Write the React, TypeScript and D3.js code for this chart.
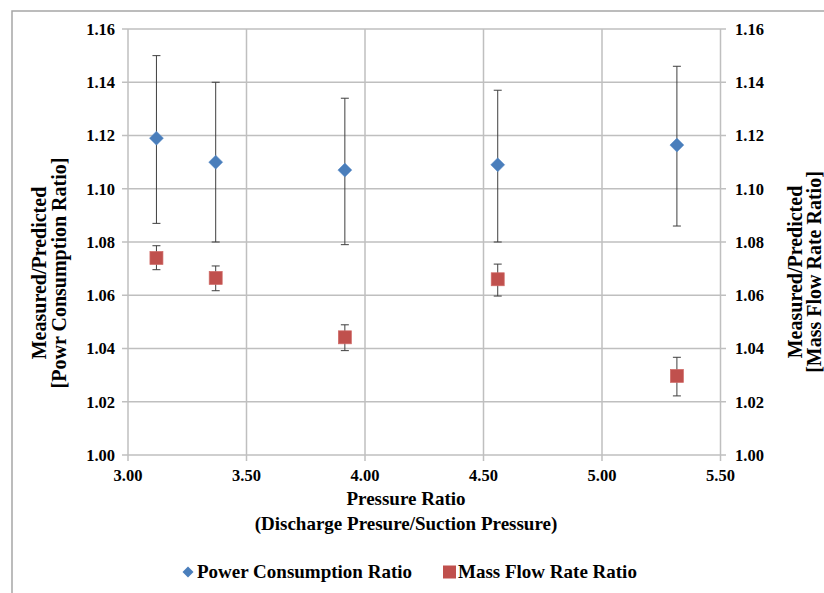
import React from "react";
import * as d3 from "d3";

const pressureRatio = [3.12, 3.37, 3.915, 4.56, 5.316];
const powerRatio = [1.119, 1.11, 1.107, 1.109, 1.1164];
const powerUpper = [1.15, 1.14, 1.134, 1.137, 1.146];
const powerLower = [1.087, 1.08, 1.079, 1.08, 1.086];
const massRatio = [1.074, 1.0665, 1.0442, 1.066, 1.0297];
const massUpper = [1.0786, 1.071, 1.0489, 1.0717, 1.0367];
const massLower = [1.0696, 1.0617, 1.0392, 1.0597, 1.0222];
const xTicks = [3.0, 3.5, 4.0, 4.5, 5.0, 5.5];
const yTicks = [1.0, 1.02, 1.04, 1.06, 1.08, 1.1, 1.12, 1.14, 1.16];

const W = 824;
const H = 593;
const FONT = "Liberation Serif";

export default function App() {
  const x = d3.scaleLinear().domain([3.0, 5.5]).range([128, 720.5]);
  const y = d3.scaleLinear().domain([1.0, 1.16]).range([455, 29]);
  const grid = "#bfbfbf";
  const errColor = "#3f3f3f";
  const dPath = (s: number) => {
    const h = s / 2;
    return `M0,${-h}L${h},0L0,${h}L${-h},0Z`;
  };
  const ts: React.CSSProperties = { fontFamily: FONT, fontWeight: "bold" };

  return (
    <svg width={W} height={H} style={{ position: "absolute", left: 0, top: 0, background: "#fff" }}>
      <rect x={0} y={0} width={W} height={H} fill="#fff" />
      <path d={`M12,${H + 5}L12,11L${W + 5},11`} fill="none" stroke="#a6a6a6" strokeWidth={1.5} />

      {yTicks.map((t) => (
        <line key={"hy" + t} x1={122} x2={726} y1={y(t)} y2={y(t)} stroke={grid} strokeWidth={1.5} />
      ))}
      {xTicks.map((t) => (
        <line key={"vx" + t} x1={x(t)} x2={x(t)} y1={29} y2={461} stroke={grid} strokeWidth={1.5} />
      ))}

      {yTicks.map((t) => (
        <text key={"ly" + t} x={115} y={y(t)} dy="0.35em" textAnchor="end" fontSize={16.5} style={ts} fill="#000">
          {d3.format(".2f")(t)}
        </text>
      ))}
      {yTicks.map((t) => (
        <text key={"ry" + t} x={735} y={y(t)} dy="0.35em" textAnchor="start" fontSize={16.5} style={ts} fill="#000">
          {d3.format(".2f")(t)}
        </text>
      ))}
      {xTicks.map((t) => (
        <text key={"tx" + t} x={x(t)} y={481} textAnchor="middle" fontSize={16.5} style={ts} fill="#000">
          {d3.format(".2f")(t)}
        </text>
      ))}

      {pressureRatio.map((p, i) => (
        <g key={"pe" + i} stroke={errColor} strokeWidth={1}>
          <line x1={x(p)} x2={x(p)} y1={y(powerUpper[i])} y2={y(powerLower[i])} />
          <line x1={x(p) - 4} x2={x(p) + 4} y1={y(powerUpper[i])} y2={y(powerUpper[i])} />
          <line x1={x(p) - 4} x2={x(p) + 4} y1={y(powerLower[i])} y2={y(powerLower[i])} />
        </g>
      ))}
      {pressureRatio.map((p, i) => (
        <g key={"me" + i} stroke={errColor} strokeWidth={1}>
          <line x1={x(p)} x2={x(p)} y1={y(massUpper[i])} y2={y(massLower[i])} />
          <line x1={x(p) - 4} x2={x(p) + 4} y1={y(massUpper[i])} y2={y(massUpper[i])} />
          <line x1={x(p) - 4} x2={x(p) + 4} y1={y(massLower[i])} y2={y(massLower[i])} />
        </g>
      ))}

      {pressureRatio.map((p, i) => (
        <path key={"pm" + i} d={dPath(14)} transform={`translate(${x(p)},${y(powerRatio[i])})`} fill="#4a7ebb" stroke="#5b8cc8" strokeWidth={0.5} />
      ))}
      {pressureRatio.map((p, i) => (
        <rect key={"mm" + i} x={x(p) - 6.5} y={y(massRatio[i]) - 6.5} width={13} height={13} fill="#c0504d" stroke="#d06a67" strokeWidth={0.7} />
      ))}

      <text x={406} y={505} textAnchor="middle" fontSize={19} style={ts} fill="#000">
        Pressure Ratio
      </text>
      <text x={406} y={530} textAnchor="middle" fontSize={19} style={ts} fill="#000">
        (Discharge Presure/Suction Pressure)
      </text>

      <text transform="translate(46,273) rotate(-90)" textAnchor="middle" fontSize={20} style={ts} fill="#000">
        Measured/Predicted
      </text>
      <text transform="translate(66,273) rotate(-90)" textAnchor="middle" fontSize={20} style={ts} fill="#000">
        [Powr Consumption Ratio]
      </text>

      <text transform="translate(802,272) rotate(-90)" textAnchor="middle" fontSize={20} style={ts} fill="#000">
        Measured/Predicted
      </text>
      <text transform="translate(821,272) rotate(-90)" textAnchor="middle" fontSize={20} style={ts} fill="#000">
        [Mass Flow Rate Ratio]
      </text>

      <path d={dPath(11)} transform="translate(188,572)" fill="#4a7ebb" />
      <text x={197} y={578} fontSize={19} style={ts} fill="#000">
        Power Consumption Ratio
      </text>
      <rect x={443} y={565.5} width={13} height={13} fill="#c0504d" />
      <text x={458} y={578} fontSize={19} style={ts} fill="#000">
        Mass Flow Rate Ratio
      </text>
    </svg>
  );
}
